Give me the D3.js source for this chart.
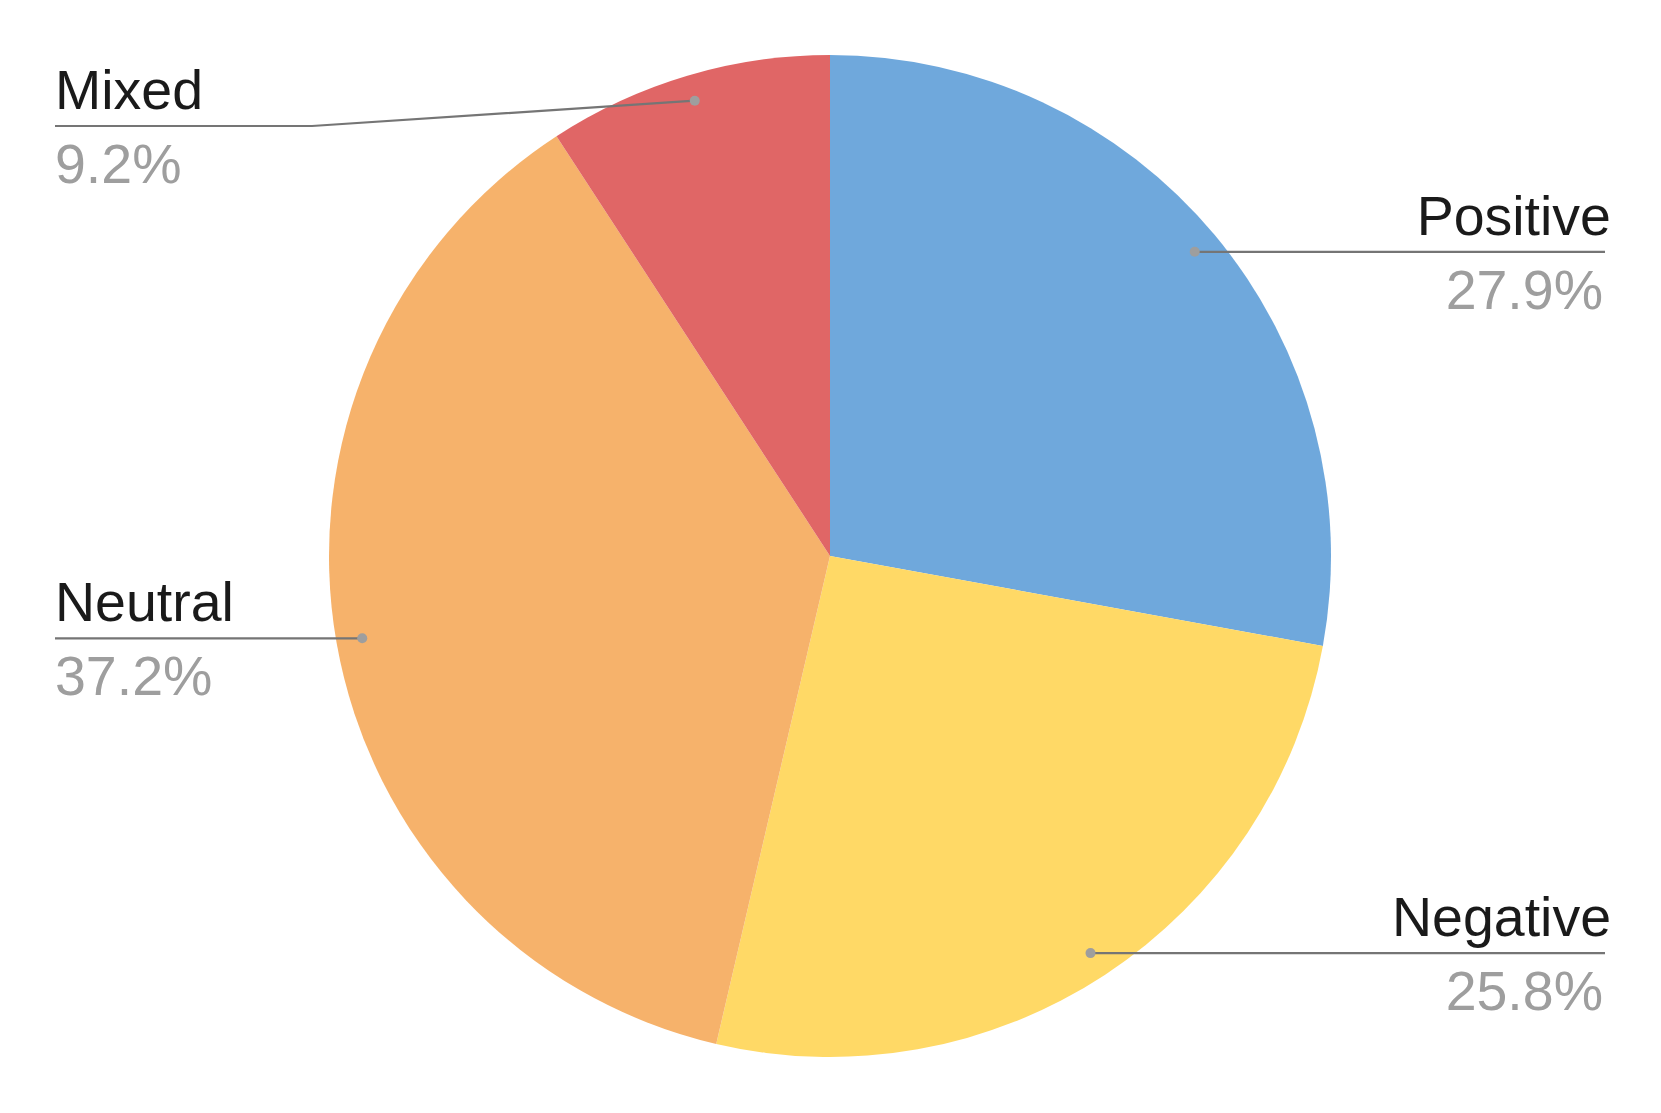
<!DOCTYPE html>
<html>
<head>
<meta charset="utf-8">
<script src="https://cdn.jsdelivr.net/npm/d3@7"></script>
<style>
  html, body { margin: 0; padding: 0; background: #ffffff; }
  svg { display: block; }
  text { font-family: "Liberation Sans", Arial, Helvetica, sans-serif; }
</style>
</head>
<body>
<svg id="chart" width="1661" height="1113"></svg>
<script>
// ---- data ----
const categories = ["Positive", "Negative", "Neutral", "Mixed"];
const values = [27.9, 25.8, 37.2, 9.2];
const valueLabels = ["27.9%", "25.8%", "37.2%", "9.2%"];
const colors = ["#6fa8dc", "#ffd966", "#f6b26b", "#e06666"];

// ---- layout ----
const W = 1661, H = 1113;
const cx = 830, cy = 556, R = 501;
const dotR = R * 0.948;
const leftX = 55, rightLineX = 1605, rightLabelX = 1611, rightValueX = 1603;
const minLineY = 126;
const kneeX = 312;
const fontSize = 55.5;

const svg = d3.select("#chart");
const g = svg.append("g").attr("transform", `translate(${cx},${cy})`);

const data = categories.map((c, i) => ({ name: c, value: values[i], label: valueLabels[i], color: colors[i] }));
const pie = d3.pie().sort(null).value(d => d.value);
const arcs = pie(data);
const arc = d3.arc().innerRadius(0).outerRadius(R);

g.selectAll("path.slice")
  .data(arcs)
  .join("path")
  .attr("class", "slice")
  .attr("d", arc)
  .attr("fill", d => d.data.color)
  .attr("stroke", "none");

const labels = svg.append("g");
arcs.forEach(a => {
  const mid = (a.startAngle + a.endAngle) / 2;
  const dx = cx + dotR * Math.sin(mid);
  const dy = cy - dotR * Math.cos(mid);
  const right = mid < Math.PI;
  const lineY = Math.max(dy, minLineY);
  let pts;
  if (right) {
    pts = [[dx, dy], [rightLineX, lineY]];
  } else if (lineY !== dy) {
    pts = [[dx, dy], [kneeX, lineY], [leftX, lineY]];
  } else {
    pts = [[dx, dy], [leftX, lineY]];
  }
  labels.append("path")
    .attr("d", d3.line()(pts))
    .attr("fill", "none")
    .attr("stroke", "#757575")
    .attr("stroke-width", 2.2);
  labels.append("circle")
    .attr("cx", dx).attr("cy", dy).attr("r", 5)
    .attr("fill", "#9e9e9e");
  labels.append("text")
    .attr("x", right ? rightLabelX : leftX)
    .attr("y", lineY - 17)
    .attr("text-anchor", right ? "end" : "start")
    .attr("font-size", fontSize)
    .attr("fill", "#1a1a1a")
    .text(a.data.name);
  labels.append("text")
    .attr("x", right ? rightValueX : leftX)
    .attr("y", lineY + 57)
    .attr("text-anchor", right ? "end" : "start")
    .attr("font-size", fontSize)
    .attr("fill", "#9e9e9e")
    .text(a.data.label);
});
</script>
</body>
</html>
